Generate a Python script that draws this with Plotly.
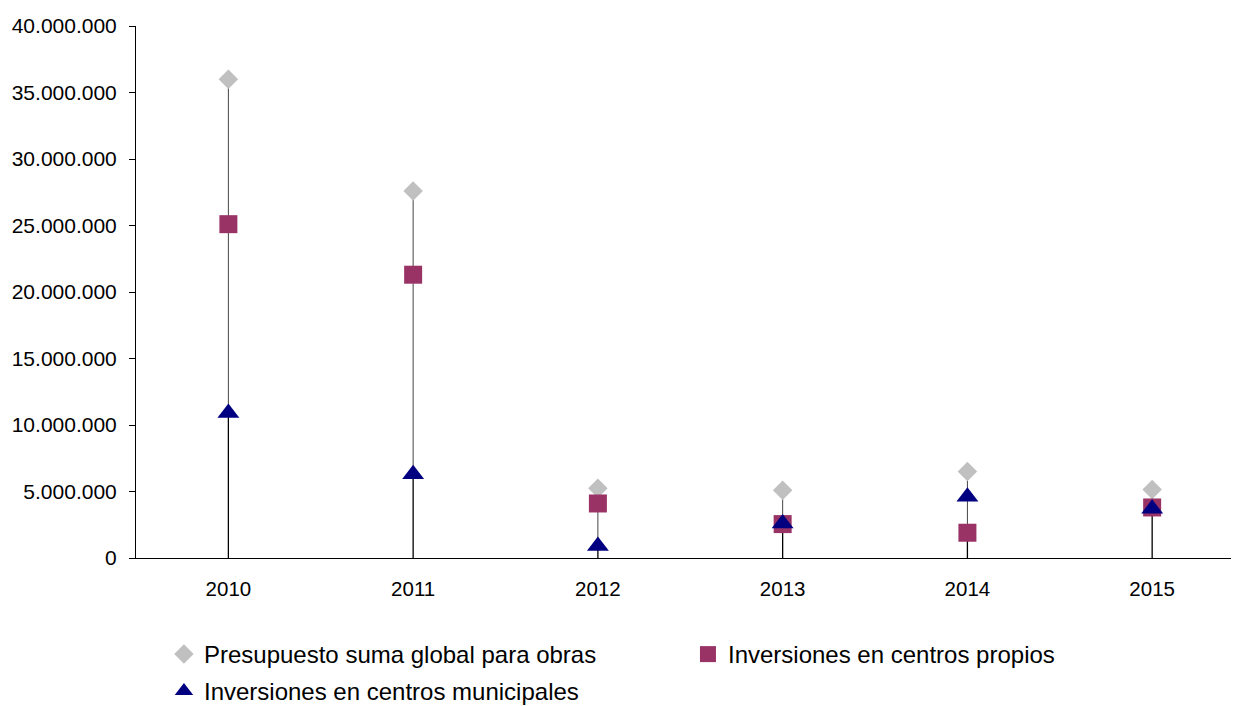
import plotly.graph_objects as go

# data
years = ["2010", "2011", "2012", "2013", "2014", "2015"]
presupuesto = [36000000, 27600000, 5250000, 5100000, 6500000, 5150000]
centros_propios = [25100000, 21300000, 4100000, 2550000, 1900000, 3800000]
centros_municipales = [10900000, 6300000, 900000, 2600000, 4600000, 3700000]

series = [presupuesto, centros_propios, centros_municipales]

# drop lines: black from the axis to the lowest marker, gray from lowest to highest
low_x, low_y, high_x, high_y = [], [], [], []
for i, yr in enumerate(years):
    vals = [s[i] for s in series]
    low_x += [yr, yr, None]
    low_y += [0, min(vals), None]
    high_x += [yr, yr, None]
    high_y += [min(vals), max(vals), None]

fig = go.Figure()

fig.add_trace(go.Scatter(x=high_x, y=high_y, mode='lines',
                         line=dict(color='#454545', width=1),
                         hoverinfo='skip', showlegend=False))
fig.add_trace(go.Scatter(x=low_x, y=low_y, mode='lines',
                         line=dict(color='black', width=1.3),
                         hoverinfo='skip', showlegend=False))

fig.add_trace(go.Scatter(x=years, y=presupuesto, mode='markers',
                         name='Presupuesto suma global para obras', legend='legend',
                         marker=dict(symbol='diamond', size=15, color='#C0C0C0')))
fig.add_trace(go.Scatter(x=years, y=centros_propios, mode='markers',
                         name='Inversiones en centros propios', legend='legend',
                         marker=dict(symbol='square', size=18, color='#993366')))
fig.add_trace(go.Scatter(x=years, y=centros_municipales, mode='markers',
                         name='Inversiones en centros municipales', legend='legend2',
                         marker=dict(symbol='triangle-up', size=19, color='#000080')))

# the page body has an 8px margin, so the figure is 8px smaller each way
fig.update_layout(
    width=1231, height=698,
    margin=dict(l=128, r=0, t=18, b=148),
    paper_bgcolor='white', plot_bgcolor='white',
    font=dict(family='Liberation Sans, Arial, sans-serif', size=21, color='black'),
    separators=',.',
    showlegend=True,
    legend=dict(orientation='h', xref='container', yref='container',
                x=0.1267, y=0.1060, xanchor='left', yanchor='top',
                entrywidth=479, itemwidth=30,
                font=dict(size=24), bgcolor='rgba(0,0,0,0)'),
    legend2=dict(orientation='h', xref='container', yref='container',
                 x=0.1267, y=0.0530, xanchor='left', yanchor='top',
                 itemwidth=30,
                 font=dict(size=24), bgcolor='rgba(0,0,0,0)'),
)

fig.update_xaxes(type='category', range=[-0.5, 5.47],
                 showline=True, linecolor='black', linewidth=1,
                 ticks='', showgrid=False, zeroline=False,
                 tickfont=dict(size=20.5), ticklabelstandoff=12)
fig.update_yaxes(range=[0, 40000000], dtick=5000000, tickformat=',d',
                 showline=True, linecolor='black', linewidth=1,
                 ticks='outside', ticklen=6, tickcolor='black',
                 showgrid=False, zeroline=False, ticklabelstandoff=8)

fig.write_html("out.html")
